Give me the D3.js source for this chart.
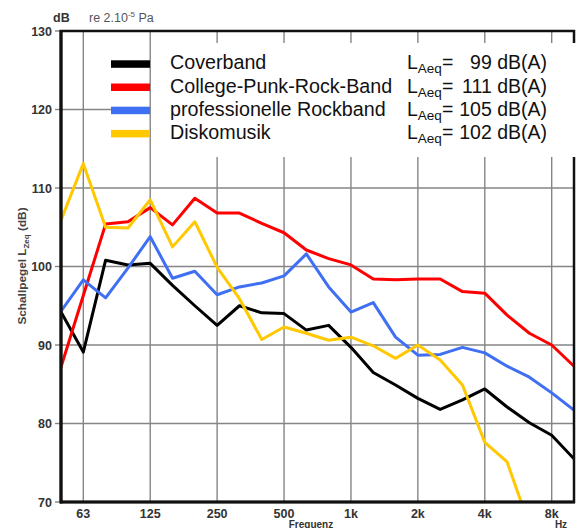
<!DOCTYPE html>
<html>
<head>
<meta charset="utf-8">
<script src="https://cdn.jsdelivr.net/npm/d3@7/dist/d3.min.js"></script>
<style>
  html, body { margin: 0; padding: 0; background: #fff; }
  svg { display: block; font-family: "Liberation Sans", Arial, Helvetica, sans-serif; }
</style>
</head>
<body>
<svg id="chart" width="580" height="528"></svg>
<script>
// Third-octave band centre frequencies (x categories)
const bands = ["50","63","80","100","125","160","200","250","315","400","500","630","800",
               "1k","1.25k","1.6k","2k","2.5k","3.15k","4k","5k","6.3k","8k","10k"];
// Labelled octave ticks
const xTickLabels = ["63","125","250","500","1k","2k","4k","8k"];
const yTicks = [70, 80, 90, 100, 110, 120, 130];

// Series values (dB)
const coverband = [94.2, 89.1, 100.8, 100.2, 100.4, 97.6, 95.0, 92.5, 95.0, 94.1, 94.0, 91.9, 92.5,
                   89.7, 86.5, 84.9, 83.2, 81.8, 83.0, 84.4, 82.1, 80.1, 78.5, 75.5];
const punkband  = [87.2, 96.3, 105.4, 105.7, 107.5, 105.3, 108.7, 106.8, 106.8, 105.5, 104.3, 102.1, 101.0,
                   100.2, 98.4, 98.3, 98.4, 98.4, 96.8, 96.6, 93.8, 91.5, 90.0, 87.3];
const rockband  = [94.3, 98.3, 96.0, 99.8, 103.8, 98.5, 99.4, 96.4, 97.4, 97.9, 98.8, 101.6, 97.4,
                   94.2, 95.4, 91.0, 88.7, 88.8, 89.7, 89.0, 87.3, 85.9, 83.9, 81.7];
const disko     = [105.9, 113.1, 105.0, 104.9, 108.5, 102.5, 105.7, 99.9, 95.9, 90.7, 92.3, 91.5, 90.6,
                   91.0, 89.9, 88.3, 90.0, 88.1, 84.9, 77.6, 75.1, 67.0];

const seriesNames = ["Coverband", "College-Punk-Rock-Band", "professionelle Rockband", "Diskomusik"];
const seriesLAeq  = [99, 111, 105, 102];
const seriesColors = ["#000000", "#ff0000", "#3f6ff2", "#ffc800"];
const seriesData = [coverband, punkband, rockband, disko];

const svg = d3.select("#chart");
const pLeft = 61, pRight = 574, pTop = 31, pBottom = 502;

const x = d3.scalePoint().domain(bands).range([pLeft, pRight]);
const y = d3.scaleLinear().domain([70, 130]).range([pBottom, pTop]);

// clip
svg.append("defs").append("clipPath").attr("id", "plotclip")
  .append("rect").attr("x", pLeft).attr("y", pTop).attr("width", pRight - pLeft).attr("height", pBottom - pTop);

// gridlines
const grid = svg.append("g").attr("stroke", "#858585").attr("stroke-width", 1.4);
grid.selectAll("line.v").data(xTickLabels).join("line").attr("class", "v")
  .attr("x1", d => x(d)).attr("x2", d => x(d)).attr("y1", pTop).attr("y2", pBottom);
grid.selectAll("line.h").data(yTicks.slice(1, -1)).join("line").attr("class", "h")
  .attr("x1", pLeft).attr("x2", pRight).attr("y1", d => y(d)).attr("y2", d => y(d));
// small outward ticks on y axis
grid.selectAll("line.t").data(yTicks).join("line").attr("class", "t")
  .attr("x1", pLeft - 6).attr("x2", pLeft).attr("y1", d => y(d)).attr("y2", d => y(d));

// data lines
const line = d3.line().x((d, i) => x(bands[i])).y(d => y(d));
const lines = svg.append("g").attr("clip-path", "url(#plotclip)");
seriesData.forEach((s, k) => {
  lines.append("path").datum(s).attr("d", line)
    .attr("fill", "none").attr("stroke", seriesColors[k]).attr("stroke-width", 3)
    .attr("stroke-linejoin", "round");
});

// frame
svg.append("rect").attr("x", pLeft).attr("y", pTop).attr("width", pRight - pLeft).attr("height", pBottom - pTop)
  .attr("fill", "none").attr("stroke", "#111").attr("stroke-width", 2.5);
svg.append("line").attr("x1", pLeft).attr("x2", pLeft).attr("y1", pTop - 1).attr("y2", pBottom + 1.5)
  .attr("stroke", "#111").attr("stroke-width", 3.2);
svg.append("line").attr("x1", pLeft - 1).attr("x2", pRight + 1).attr("y1", pBottom).attr("y2", pBottom)
  .attr("stroke", "#111").attr("stroke-width", 3.2);

// legend
const legTop = 43, legRow = 23.2, legBase0 = 69.3;
svg.append("rect").attr("x", 151).attr("y", legTop).attr("width", 429).attr("height", 114).attr("fill", "#fff");
// legend swatches
svg.selectAll("rect.sw").data(seriesColors).join("rect").attr("class", "sw")
  .attr("x", 111).attr("width", 39).attr("height", 7.5)
  .attr("y", (d, i) => legBase0 - 9 + i * legRow)
  .attr("fill", d => d);
const legG = svg.append("g").attr("fill", "#111");
seriesNames.forEach((n, i) => {
  const yb = legBase0 + i * legRow;
  legG.append("text").attr("x", 170).attr("y", yb).attr("font-size", 19.7).text(n);
  const t = legG.append("text").attr("x", 407).attr("y", yb).attr("font-size", 19.5);
  t.append("tspan").text("L");
  t.append("tspan").attr("font-size", 13.5).attr("dy", 4).text("Aeq");
  t.append("tspan").attr("dy", -4).text("=");
  legG.append("text").attr("x", 547).attr("y", yb).attr("font-size", 19.5)
    .attr("text-anchor", "end").text(seriesLAeq[i] + " dB(A)");
});

// y tick labels
svg.append("g").selectAll("text").data(yTicks).join("text")
  .attr("x", 52).attr("y", d => y(d) + 4.5).attr("text-anchor", "end")
  .attr("font-size", 12.5).attr("font-weight", "bold").attr("fill", "#333").text(d => d);

// x tick labels
svg.append("g").selectAll("text").data(xTickLabels).join("text")
  .attr("x", d => x(d)).attr("y", 517.5).attr("text-anchor", "middle")
  .attr("font-size", 12.5).attr("font-weight", "bold").attr("fill", "#333").text(d => d);

// axis titles
svg.append("text").attr("x", 311).attr("y", 527.5).attr("text-anchor", "middle")
  .attr("font-size", 10).attr("font-weight", "bold").attr("fill", "#333").text("Frequenz");
svg.append("text").attr("x", 561).attr("y", 527.5).attr("text-anchor", "middle")
  .attr("font-size", 10).attr("font-weight", "bold").attr("fill", "#333").text("Hz");

const yt = svg.append("text").attr("transform", "translate(26,266) rotate(-90)")
  .attr("text-anchor", "middle").attr("font-size", 11.8).attr("font-weight", "bold").attr("fill", "#444");
yt.append("tspan").text("Schallpegel L");
yt.append("tspan").attr("font-size", 8).attr("dy", 2.5).text("Zeq");
yt.append("tspan").attr("dy", -2.5).text(" (dB)");

// unit header
svg.append("text").attr("x", 53).attr("y", 22).attr("font-size", 12.5).attr("font-weight", "bold")
  .attr("fill", "#333").text("dB");
const re = svg.append("text").attr("x", 89).attr("y", 22).attr("font-size", 12.5).attr("fill", "#555");
re.append("tspan").text("re 2.10");
re.append("tspan").attr("font-size", 8).attr("dy", -5).text("-5");
re.append("tspan").attr("dy", 5).text(" Pa");
</script>
</body>
</html>
